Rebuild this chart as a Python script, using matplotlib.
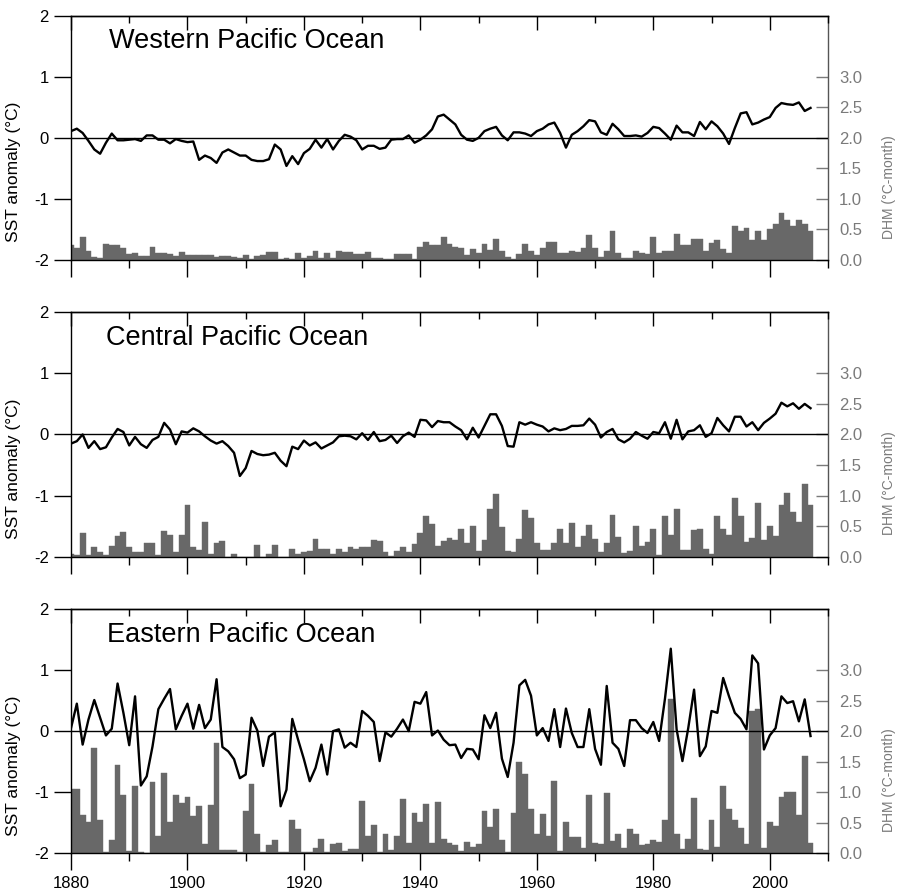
import matplotlib
matplotlib.use('Agg')
import matplotlib.pyplot as plt
from matplotlib.ticker import MultipleLocator, FixedLocator, FormatStrFormatter

plt.rcParams['font.family'] = ['Liberation Sans', 'DejaVu Sans']
plt.rcParams['axes.unicode_minus'] = False

years = list(range(1880, 2008))

titles = ["Western Pacific Ocean", "Central Pacific Ocean", "Eastern Pacific Ocean"]

west_sst = [0.11, 0.15, 0.08, -0.05, -0.19, -0.26, -0.08, 0.07, -0.04, -0.04,
            -0.03, -0.02, -0.05, 0.04, 0.04, -0.03, -0.03, -0.09, -0.02, -0.05,
            -0.07, -0.06, -0.36, -0.29, -0.33, -0.41, -0.24, -0.19, -0.24, -0.29,
            -0.29, -0.36, -0.38, -0.38, -0.35, -0.11, -0.19, -0.46, -0.30, -0.43,
            -0.25, -0.18, -0.03, -0.16, -0.02, -0.19, -0.05, 0.05, 0.02, -0.04,
            -0.19, -0.13, -0.13, -0.18, -0.16, -0.03, -0.02, -0.02, 0.04, -0.08,
            -0.03, 0.04, 0.14, 0.35, 0.38, 0.30, 0.22, 0.05, -0.03, -0.05,
            0.00, 0.11, 0.15, 0.18, 0.04, -0.04, 0.09, 0.09, 0.07, 0.03,
            0.11, 0.15, 0.22, 0.25, 0.08, -0.16, 0.05, 0.11, 0.19, 0.29,
            0.27, 0.09, 0.05, 0.23, 0.14, 0.03, 0.03, 0.04, 0.02, 0.08,
            0.18, 0.16, 0.07, -0.03, 0.20, 0.09, 0.09, 0.03, 0.26, 0.14,
            0.27, 0.19, 0.07, -0.10, 0.16, 0.40, 0.42, 0.22, 0.25, 0.30,
            0.34, 0.49, 0.57, 0.55, 0.54, 0.58, 0.44, 0.49]

west_dhm = [0.25, 0.20, 0.38, 0.15, 0.05, 0.04, 0.27, 0.25, 0.25, 0.19,
            0.10, 0.12, 0.06, 0.07, 0.22, 0.12, 0.12, 0.10, 0.07, 0.13,
            0.09, 0.09, 0.09, 0.08, 0.08, 0.05, 0.06, 0.06, 0.05, 0.03,
            0.08, 0.02, 0.06, 0.08, 0.13, 0.13, 0.02, 0.03, 0.02, 0.12,
            0.03, 0.07, 0.14, 0.04, 0.12, 0.04, 0.15, 0.13, 0.13, 0.10,
            0.10, 0.13, 0.04, 0.04, 0.01, 0.02, 0.10, 0.10, 0.10, 0.02,
            0.22, 0.29, 0.25, 0.25, 0.38, 0.26, 0.21, 0.20, 0.08, 0.18,
            0.11, 0.26, 0.16, 0.35, 0.14, 0.05, 0.02, 0.10, 0.26, 0.15,
            0.09, 0.20, 0.30, 0.30, 0.11, 0.11, 0.15, 0.13, 0.19, 0.41,
            0.20, 0.05, 0.15, 0.48, 0.11, 0.04, 0.04, 0.15, 0.11, 0.10,
            0.37, 0.11, 0.14, 0.14, 0.42, 0.25, 0.25, 0.34, 0.35, 0.14,
            0.28, 0.33, 0.18, 0.11, 0.56, 0.47, 0.53, 0.33, 0.48, 0.33,
            0.51, 0.59, 0.77, 0.66, 0.55, 0.65, 0.59, 0.47]

central_sst = [-0.15, -0.11, 0.00, -0.22, -0.11, -0.24, -0.21, -0.05, 0.09, 0.04,
               -0.18, -0.04, -0.16, -0.22, -0.09, -0.04, 0.19, 0.08, -0.16, 0.05,
               0.03, 0.10, 0.05, -0.03, -0.10, -0.15, -0.11, -0.19, -0.30, -0.68,
               -0.55, -0.27, -0.32, -0.34, -0.33, -0.30, -0.43, -0.52, -0.20, -0.24,
               -0.10, -0.18, -0.13, -0.23, -0.18, -0.13, -0.03, -0.02, -0.03, -0.08,
               0.02, -0.09, 0.04, -0.11, -0.09, -0.02, -0.14, -0.03, 0.03, -0.04,
               0.24, 0.23, 0.12, 0.22, 0.20, 0.20, 0.13, 0.07, -0.08, 0.11,
               -0.05, 0.14, 0.33, 0.33, 0.14, -0.19, -0.20, 0.20, 0.16, 0.20,
               0.16, 0.13, 0.05, 0.10, 0.07, 0.09, 0.14, 0.14, 0.15, 0.26,
               0.16, -0.05, 0.04, 0.09, -0.08, -0.13, -0.07, 0.04, -0.02, -0.07,
               0.04, 0.02, 0.20, -0.07, 0.24, -0.08, 0.05, 0.07, 0.15, -0.04,
               0.02, 0.27, 0.15, 0.05, 0.29, 0.29, 0.13, 0.20, 0.07, 0.19,
               0.26, 0.34, 0.52, 0.46, 0.51, 0.42, 0.50, 0.43]

central_dhm = [0.04, 0.02, 0.38, 0.02, 0.15, 0.08, 0.02, 0.17, 0.34, 0.40,
               0.16, 0.08, 0.08, 0.23, 0.23, 0.02, 0.42, 0.36, 0.08, 0.35,
               0.84, 0.16, 0.10, 0.57, 0.05, 0.22, 0.26, 0.00, 0.05, 0.00,
               0.00, 0.00, 0.19, 0.00, 0.05, 0.19, 0.00, 0.00, 0.12, 0.04,
               0.08, 0.09, 0.29, 0.13, 0.13, 0.04, 0.12, 0.08, 0.15, 0.12,
               0.16, 0.16, 0.27, 0.26, 0.08, 0.01, 0.09, 0.15, 0.07, 0.20,
               0.38, 0.67, 0.53, 0.17, 0.26, 0.31, 0.27, 0.46, 0.22, 0.50,
               0.09, 0.27, 0.78, 1.03, 0.49, 0.09, 0.08, 0.29, 0.76, 0.64,
               0.23, 0.10, 0.10, 0.23, 0.46, 0.23, 0.55, 0.15, 0.34, 0.51,
               0.28, 0.07, 0.22, 0.68, 0.32, 0.06, 0.09, 0.50, 0.17, 0.24,
               0.45, 0.03, 0.66, 0.36, 0.78, 0.10, 0.10, 0.43, 0.45, 0.13,
               0.04, 0.67, 0.46, 0.35, 0.96, 0.67, 0.24, 0.31, 0.87, 0.27,
               0.50, 0.33, 0.85, 1.04, 0.73, 0.57, 1.19, 0.84]

east_sst = [0.05, 0.45, -0.22, 0.19, 0.51, 0.22, -0.07, 0.04, 0.78, 0.30,
            -0.23, 0.57, -0.89, -0.74, -0.25, 0.36, 0.53, 0.69, 0.03, 0.25,
            0.45, 0.04, 0.43, 0.05, 0.19, 0.85, -0.26, -0.33, -0.46, -0.77,
            -0.71, 0.22, 0.01, -0.57, -0.09, -0.02, -1.23, -0.96, 0.20, -0.14,
            -0.46, -0.82, -0.60, -0.22, -0.71, 0.00, 0.03, -0.27, -0.19, -0.26,
            0.33, 0.25, 0.15, -0.49, -0.02, -0.09, 0.04, 0.19, 0.00, 0.48,
            0.45, 0.64, -0.07, 0.01, -0.14, -0.23, -0.22, -0.44, -0.29, -0.30,
            -0.46, 0.26, 0.05, 0.30, -0.45, -0.75, -0.19, 0.75, 0.84, 0.58,
            -0.07, 0.05, -0.16, 0.36, -0.26, 0.37, -0.03, -0.26, -0.26, 0.36,
            -0.29, -0.55, 0.74, -0.19, -0.29, -0.57, 0.18, 0.18, 0.05, -0.03,
            0.15, -0.16, 0.53, 1.35, 0.03, -0.49, 0.05, 0.68, -0.41, -0.25,
            0.33, 0.30, 0.87, 0.57, 0.30, 0.20, 0.03, 1.24, 1.11, -0.30,
            -0.07, 0.05, 0.57, 0.46, 0.49, 0.16, 0.52, -0.08]

east_dhm = [1.05, 1.05, 0.63, 0.51, 1.73, 0.55, 0.02, 0.21, 1.45, 0.95,
            0.03, 1.10, 0.02, 0.00, 1.17, 0.29, 1.32, 0.52, 0.96, 0.83,
            0.92, 0.61, 0.77, 0.16, 0.79, 1.81, 0.06, 0.06, 0.06, 0.02,
            0.69, 1.13, 0.32, 0.02, 0.14, 0.21, 0.02, 0.02, 0.54, 0.39,
            0.02, 0.02, 0.09, 0.23, 0.02, 0.15, 0.17, 0.03, 0.07, 0.07,
            0.86, 0.28, 0.47, 0.02, 0.32, 0.05, 0.29, 0.89, 0.17, 0.66,
            0.51, 0.81, 0.17, 0.84, 0.23, 0.17, 0.14, 0.04, 0.18, 0.10,
            0.16, 0.70, 0.43, 0.73, 0.22, 0.02, 0.66, 1.49, 1.30, 0.73,
            0.31, 0.64, 0.28, 1.18, 0.03, 0.51, 0.26, 0.26, 0.08, 0.95,
            0.17, 0.15, 0.99, 0.20, 0.31, 0.08, 0.39, 0.31, 0.14, 0.15,
            0.21, 0.18, 0.55, 2.53, 0.32, 0.07, 0.24, 0.91, 0.07, 0.06,
            0.55, 0.10, 1.11, 0.72, 0.54, 0.42, 0.15, 2.33, 2.37, 0.09,
            0.52, 0.45, 0.93, 1.00, 1.00, 0.62, 1.59, 0.17]

sst_series = [west_sst, central_sst, east_sst]
dhm_series = [west_dhm, central_dhm, east_dhm]

sst_ticks = [-2, -1, 0, 1, 2]
dhm_ticks = [0.0, 0.5, 1.0, 1.5, 2.0, 2.5, 3.0]

BAR_COLOR = '#686868'
GRAY_TXT = '#7a7a7a'

W, H = 900, 893
fig = plt.figure(figsize=(W / 100, H / 100), dpi=100)

left_px, width_px = 71, 757
tops_px = [15.7, 312.3, 609.0]
height_px = 244.3
title_pos = [(0.050, 0.895), (0.046, 0.895), (0.048, 0.893)]

for i in range(3):
    rect = [left_px / W, 1 - (tops_px[i] + height_px) / H, width_px / W, height_px / H]
    ax = fig.add_axes(rect)
    ax2 = ax.twinx()

    # bars (DHM) on right axis
    ax2.bar(years, dhm_series[i], width=1.0, align='center', color=BAR_COLOR,
            edgecolor=BAR_COLOR, linewidth=0.3)
    ax2.set_ylim(0, 4)
    ax2.yaxis.set_major_locator(FixedLocator(dhm_ticks))
    ax2.yaxis.set_major_formatter(FormatStrFormatter('%.1f'))
    ax2.tick_params(axis='y', direction='in', length=9, width=1.0, colors=GRAY_TXT,
                    labelsize=12, pad=8)
    for s in ['left', 'top', 'bottom']:
        ax2.spines[s].set_visible(False)
    ax2.spines['right'].set_color('#555555')
    ax2.spines['right'].set_linewidth(1.0)
    ax2.set_ylabel('DHM (°C-month)', color=GRAY_TXT, fontsize=10)
    ax2.yaxis.set_label_coords(1.071, 0.30)

    # SST line on left axis
    ax.axhline(0, color='black', lw=1.0, zorder=2)
    ax.plot(years, sst_series[i], color='black', lw=1.7, zorder=3)
    ax.set_ylim(-2, 2)
    ax.set_xlim(1880, 2010)
    ax.set_zorder(ax2.get_zorder() + 1)
    ax.patch.set_visible(False)
    ax.spines['right'].set_visible(False)
    for s in ['left', 'top', 'bottom']:
        ax.spines[s].set_linewidth(1.0)

    ax.yaxis.set_major_locator(FixedLocator(sst_ticks))
    ax.tick_params(axis='y', direction='out', length=12, width=1.0, labelsize=12, pad=4)
    ax.xaxis.set_major_locator(MultipleLocator(20))
    ax.xaxis.set_minor_locator(MultipleLocator(10))
    ax.tick_params(axis='x', which='major', direction='out', length=12, width=1.0,
                   labelsize=12, pad=4, labelbottom=(i == 2))
    ax.tick_params(axis='x', which='minor', direction='out', length=6, width=1.0)

    sec = ax.secondary_xaxis('top')
    sec.xaxis.set_major_locator(MultipleLocator(20))
    sec.xaxis.set_minor_locator(MultipleLocator(10))
    sec.tick_params(axis='x', which='major', direction='in', length=10, width=1.0,
                    labeltop=False)
    sec.tick_params(axis='x', which='minor', direction='in', length=5, width=1.0)
    sec.spines['top'].set_linewidth(1.0)

    ax.set_ylabel('SST anomaly (°C)', fontsize=12.5)
    ax.yaxis.set_label_coords(-0.066, 0.36)

    tx, ty = title_pos[i]
    ax.text(tx, ty, titles[i], transform=ax.transAxes, fontsize=19.5,
            ha='left', va='center')

fig.savefig('out.png', dpi=100)
